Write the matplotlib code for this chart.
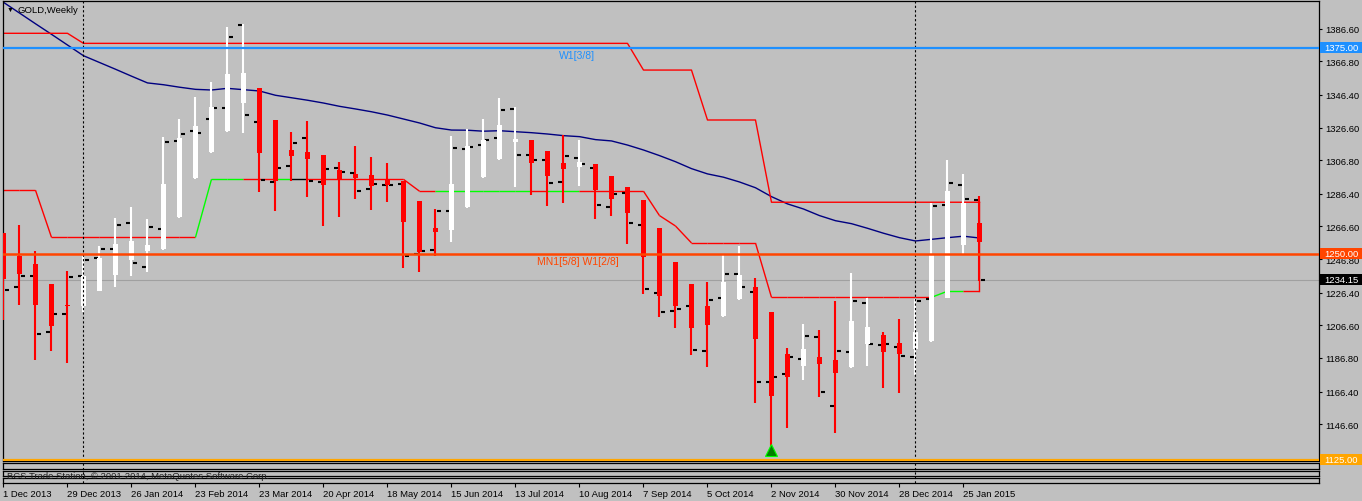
import numpy as np
import matplotlib
matplotlib.use("Agg")
import matplotlib.pyplot as plt
import matplotlib.transforms as mtransforms
from matplotlib.patches import Rectangle
from matplotlib.collections import LineCollection

plt.rcParams['font.family'] = ['Liberation Sans', 'DejaVu Sans']

# weekly GOLD, 1 Dec 2013 .. 1 Feb 2015 (62 bars)
date_labels = ["1 Dec 2013", "29 Dec 2013", "26 Jan 2014", "23 Feb 2014", "23 Mar 2014",
               "20 Apr 2014", "18 May 2014", "15 Jun 2014", "13 Jul 2014", "10 Aug 2014",
               "7 Sep 2014", "5 Oct 2014", "2 Nov 2014", "30 Nov 2014", "28 Dec 2014",
               "25 Jan 2015"]

# heiken ashi candles
ha_open = [1262.7, 1248.7, 1243.9, 1231.7, 1219.0, 1218.6, 1227.3, 1237.2, 1246.5, 1251.7,
           1253.0, 1272.2, 1295.8, 1311.6, 1324.5, 1341.7, 1350.6, 1331.2, 1313.0, 1311.8,
           1310.0, 1300.9, 1298.5, 1297.8, 1295.0, 1294.4, 1282.1, 1265.7, 1264.7, 1278.3,
           1296.5, 1307.6, 1318.0, 1319.1, 1312.4, 1305.1, 1302.9, 1304.5, 1297.2, 1290.6,
           1282.7, 1265.7, 1245.1, 1231.7, 1218.4, 1212.3, 1222.6, 1229.9, 1214.7, 1189.2,
           1182.2, 1187.4, 1185.6, 1181.4, 1195.5, 1200.8, 1195.9, 1192.5, 1197.1, 1223.4,
           1255.6, 1268.7]
ha_high = [1262.7, 1267.5, 1251.6, 1231.7, 1239.6, 1248.9, 1254.8, 1271.8, 1278.4, 1271.2,
           1320.9, 1331.8, 1345.0, 1354.3, 1387.6, 1389.5, 1350.6, 1331.2, 1323.9, 1330.6,
           1310.0, 1305.7, 1315.4, 1308.8, 1305.1, 1294.4, 1282.1, 1277.2, 1321.5, 1325.8,
           1331.8, 1344.6, 1339.1, 1319.1, 1312.4, 1322.1, 1319.1, 1304.5, 1297.2, 1290.6,
           1282.7, 1265.7, 1245.1, 1231.7, 1232.9, 1249.3, 1254.8, 1235.4, 1214.7, 1192.9,
           1207.4, 1203.8, 1221.4, 1238.4, 1223.2, 1202.6, 1210.5, 1222.6, 1280.9, 1306.9,
           1298.5, 1285.1]
ha_low = [1210.1, 1219.2, 1185.8, 1191.3, 1184.0, 1214.5, 1227.3, 1230.1, 1236.8, 1239.2,
          1252.5, 1271.8, 1295.4, 1311.2, 1324.1, 1323.3, 1287.5, 1276.0, 1294.4, 1284.5,
          1267.1, 1272.6, 1283.5, 1276.8, 1281.6, 1241.2, 1239.2, 1248.9, 1257.4, 1277.8,
          1296.2, 1307.1, 1290.8, 1285.9, 1279.2, 1281.0, 1291.4, 1271.3, 1273.2, 1256.2,
          1225.8, 1211.9, 1205.2, 1188.8, 1181.5, 1211.9, 1222.2, 1159.7, 1129.6, 1144.5,
          1173.7, 1163.4, 1141.5, 1180.9, 1182.2, 1168.8, 1165.8, 1176.7, 1196.5, 1223.0,
          1250.1, 1233.5]
ha_close = [1234.9, 1237.8, 1219.2, 1206.4, 1218.4, 1236.6, 1247.5, 1256.0, 1258.0, 1255.4,
            1292.4, 1320.3, 1327.6, 1338.9, 1359.1, 1359.7, 1311.2, 1294.4, 1309.6, 1307.7,
            1292.0, 1295.4, 1296.2, 1291.4, 1292.0, 1269.5, 1251.0, 1263.5, 1292.4, 1315.4,
            1319.1, 1328.2, 1319.7, 1305.3, 1297.4, 1301.7, 1305.7, 1288.9, 1283.5, 1275.0,
            1248.3, 1224.3, 1218.2, 1205.2, 1207.0, 1232.9, 1237.2, 1198.5, 1164.0, 1175.5,
            1192.3, 1183.4, 1177.9, 1209.3, 1205.6, 1190.6, 1189.4, 1202.6, 1249.3, 1288.1,
            1280.9, 1257.4]

# real bars: open / close ticks
bar_open = [1227.5, 1230.1, 1236.8, 1202.8, 1213.7, 1236.8, 1247.7, 1253.1, 1268.9, 1242.2,
            1265.3, 1318.6, 1324.7, 1332.0, 1338.7, 1389.0, 1330.2, 1293.6, 1303.5, 1320.5,
            1293.8, 1302.3, 1299.2, 1289.5, 1292.0, 1292.2, 1249.9, 1252.5, 1276.0, 1313.8,
            1316.2, 1320.5, 1338.1, 1310.2, 1307.1, 1293.8, 1308.3, 1302.3, 1278.6, 1286.7,
            1267.7, 1226.4, 1215.5, 1218.2, 1191.3, 1223.4, 1238.0, 1227.0, 1172.5, 1177.3,
            1186.4, 1199.7, 1157.9, 1190.6, 1220.4, 1194.9, 1193.7, 1187.6, 1222.8, 1279.8,
            1292.0, 1282.7]
bar_close = [1228.1, 1236.8, 1201.6, 1213.3, 1236.1, 1246.5, 1253.1, 1267.7, 1244.6, 1266.5,
             1318.0, 1322.9, 1323.3, 1338.7, 1381.7, 1334.2, 1294.8, 1302.3, 1317.4, 1294.4,
             1301.7, 1299.9, 1288.3, 1292.6, 1292.0, 1248.9, 1251.9, 1276.0, 1314.4, 1315.0,
             1319.3, 1337.5, 1310.2, 1307.1, 1293.2, 1309.6, 1304.5, 1279.8, 1286.1, 1268.9,
             1228.9, 1214.9, 1216.7, 1191.9, 1222.2, 1238.0, 1230.1, 1172.5, 1175.5, 1187.6,
             1200.4, 1166.4, 1191.3, 1221.6, 1195.5, 1195.5, 1188.2, 1221.6, 1279.2, 1293.0,
             1283.5, 1234.15]

ma_line = [1402.6, 1396.1, 1389.6, 1383.2, 1376.7, 1370.2, 1366.1, 1362.0, 1357.8, 1353.7,
           1352.6, 1351.1, 1349.8, 1349.4, 1350.4, 1349.6, 1348.8, 1346.2, 1344.7, 1343.2,
           1341.5, 1339.5, 1337.9, 1336.2, 1334.2, 1331.8, 1329.4, 1326.5, 1325.1, 1325.0,
           1324.4, 1324.7, 1324.1, 1323.5, 1322.7, 1321.7, 1321.1, 1319.3, 1318.5, 1316.0,
           1313.0, 1309.6, 1305.9, 1301.7, 1298.5, 1296.5, 1293.6, 1290.1, 1284.7, 1280.3,
           1277.2, 1273.2, 1270.1, 1268.3, 1265.5, 1262.5, 1259.8, 1257.8, 1258.8, 1259.8,
           1260.7, 1259.6]

upper_line = [1383.8, 1383.8, 1383.8, 1383.8, 1383.8, 1377.7, 1377.7, 1377.7, 1377.7, 1377.7,
              1377.7, 1377.7, 1377.7, 1377.7, 1377.7, 1377.7, 1377.7, 1377.7, 1377.7, 1377.7,
              1377.7, 1377.7, 1377.7, 1377.7, 1377.7, 1377.7, 1377.7, 1377.7, 1377.7, 1377.7,
              1377.7, 1377.7, 1377.7, 1377.7, 1377.7, 1377.7, 1377.7, 1377.7, 1377.7, 1377.7,
              1361.5, 1361.5, 1361.5, 1361.5, 1331.2, 1331.2, 1331.2, 1331.2, 1281.3, 1281.3,
              1281.3, 1281.3, 1281.3, 1281.3, 1281.3, 1281.3, 1281.3, 1281.3, 1281.3, 1281.3,
              1281.3, 1281.3]
lower_line = [1288.6, 1288.6, 1288.6, 1260.0, 1260.0, 1260.0, 1260.0, 1260.0, 1260.0, 1260.0,
              1260.0, 1260.0, 1260.0, 1295.2, 1295.2, 1295.2, 1295.2, 1295.2, 1295.2, 1295.2,
              1295.2, 1295.2, 1295.2, 1295.2, 1295.2, 1295.2, 1288.0, 1288.0, 1288.0, 1288.0,
              1288.0, 1288.0, 1288.0, 1288.0, 1288.0, 1288.0, 1288.0, 1288.0, 1288.0, 1288.0,
              1288.0, 1273.2, 1266.9, 1256.6, 1256.6, 1256.6, 1256.6, 1256.6, 1223.6, 1223.6,
              1223.6, 1223.6, 1223.6, 1223.6, 1223.6, 1223.6, 1223.6, 1223.6, 1223.6, 1227.3,
              1227.3, 1227.3]
# state of each lower-line segment: 1 up, -1 down, 0 flat
lower_state = [-1, -1, -1, -1, -1, -1, -1, -1, -1, -1, -1, -1, 1, 1, 1, -1, -1, 1, 0, -1,
               -1, -1, -1, -1, -1, -1, -1, 1, 1, 1, 1, 1, 1, -1, 1, 1, -1, -1, -1, -1,
               -1, -1, -1, -1, -1, -1, -1, -1, -1, -1, -1, -1, -1, -1, -1, -1, -1, -1, 1, 1,
               -1]

level_blue = 1375.00
level_mid = 1250.00
level_low = 1125.00
bid = 1234.15
arrow_bar = 48
arrow_price = 1131.0
separator_bars = [5, 57]
price_ticks = [1386.6, 1366.8, 1346.4, 1326.6, 1306.8, 1286.4, 1266.6, 1246.8,
               1226.4, 1206.6, 1186.8, 1166.4, 1146.6]

BG = '#C0C0C0'
W, H = 1362, 502
fig = plt.figure(figsize=(W / 100, H / 100), dpi=100, facecolor=BG)
ax = fig.add_axes([3 / W, 1 - 462 / H, 1316 / W, 460 / H])
ax.set_facecolor(BG)
xlim = (-0.03, 82.22)
ax.set_xlim(*xlim)
ax.set_ylim(1124.3, 1403.4)
for s in ax.spines.values():
    s.set_color('black')
    s.set_linewidth(0.9)

x = np.arange(len(ha_open))
o = np.array(ha_open); c = np.array(ha_close)
up = c >= o
cols = np.where(up, 'white', '#FF0000')

# lines under the candles
ax.plot(x, ma_line, color='#000080', lw=1, zorder=2)
ax.plot(x, upper_line, color='#FF0000', lw=1, zorder=2)
ax.plot([x[-1], x[-1]], [upper_line[-1], lower_line[-1]], color='#FF0000', lw=1, zorder=2)
state_col = {1: '#00FF00', -1: '#FF0000', 0: 'black'}
segs = [[(i, lower_line[i]), (i + 1, lower_line[i + 1])] for i in range(len(x) - 1)]
ax.add_collection(LineCollection(segs, colors=[state_col[s] for s in lower_state],
                                 linewidths=1, zorder=2))

# bar open/close ticks
ax.hlines(bar_open, x - 0.33, x - 0.1, color='black', lw=1.5, zorder=2.5)
ax.hlines(bar_close, x + 0.1, x + 0.33, color='black', lw=1.5, zorder=2.5)

# heiken ashi
ax.vlines(x, ha_low, ha_high, colors=cols, lw=1.5, zorder=3)
body_h = np.maximum(np.abs(c - o), 0.8)
ax.bar(x, body_h, bottom=np.minimum(o, c), width=0.31, color=cols, lw=0, zorder=3.5)

# horizontal levels
ax.axhline(level_blue, color='#1E90FF', lw=1.6, zorder=5)
ax.axhline(level_mid, color='#FF4500', lw=1.8, zorder=5)
ax.axhline(level_low, color='#FFA500', lw=1.6, zorder=5)
ax.axhline(bid, color='#A0A0A0', lw=0.8, zorder=1.5)
ax.text(34.7, 1370.6, 'W1[3/8]', color='#1E90FF', fontsize=7.5, va='center', ha='left', zorder=6)
ax.text(33.35, 1245.7, 'MN1[5/8] W1[2/8]', color='#FF4500', fontsize=7.5, va='center',
        ha='left', zorder=6)

ax.plot(arrow_bar, arrow_price, marker='^', ms=8, mfc='#008000', mec='#00FF00', mew=0.8,
        zorder=6)

for b in separator_bars:
    ax.axvline(b, ymin=-0.048, ymax=1, color='black', lw=0.8, ls=(0, (2, 2)),
               clip_on=False, zorder=4)

# price scale on the right
ax.yaxis.tick_right()
ax.set_yticks(price_ticks)
ax.set_yticklabels(['%.2f' % t for t in price_ticks])
ax.tick_params(axis='y', length=2.2, width=0.8, pad=2.2, labelsize=6.8, colors='black')
ax.tick_params(axis='x', bottom=False, labelbottom=False)

# empty sub windows
subs = []
for top, bot in [(464.3, 470.3), (472.3, 477.3), (478.5, 483.5)]:
    sa = fig.add_axes([3 / W, 1 - bot / H, 1316 / W, (bot - top) / H])
    sa.set_facecolor('none')
    sa.set_xlim(*xlim)
    sa.set_yticks([])
    sa.tick_params(axis='x', bottom=False, labelbottom=False)
    for s in sa.spines.values():
        s.set_linewidth(0.9)
    subs.append(sa)

tax = subs[-1]
tax.set_xticks(np.arange(0, 4 * len(date_labels), 4))
tax.set_xticklabels(date_labels)
tax.tick_params(axis='x', bottom=True, labelbottom=True, length=3, width=0.8, pad=2,
                labelsize=6.8)
for lab in tax.get_xticklabels():
    lab.set_horizontalalignment('left')

# colored price boxes
bt = mtransforms.blended_transform_factory(fig.transFigure, ax.transData)
ppx = (1403.4 - 1124.3) / 460.0
for price, fc, txt in [(level_blue, '#1E90FF', '1375.00'), (level_mid, '#FF4500', '1250.00'),
                       (bid, 'black', '1234.15'), (level_low, '#FFA500', '1125.00')]:
    fig.add_artist(Rectangle((1320 / W, price - 5.5 * ppx), 42 / W, 11 * ppx,
                             transform=bt, facecolor=fc, edgecolor='none', zorder=8))
    fig.text(1324 / W, price, txt, transform=bt, color='white', fontsize=6.8,
             va='center', ha='left', zorder=9)

fig.text(7 / W, 1 - 10.5 / H, u'\u25BC', fontsize=5, va='center', ha='left')
fig.text(18 / W, 1 - 10.7 / H, 'GOLD,Weekly', fontsize=6.8, va='center', ha='left')
fig.text(7 / W, 1 - 476.5 / H, u'BCS Trade Station, \u00a9 2001-2014, MetaQuotes Software Corp.',
         fontsize=6.8, va='center', ha='left', color='#202020', zorder=9)

fig.savefig('out.png', dpi=100, facecolor=BG)
